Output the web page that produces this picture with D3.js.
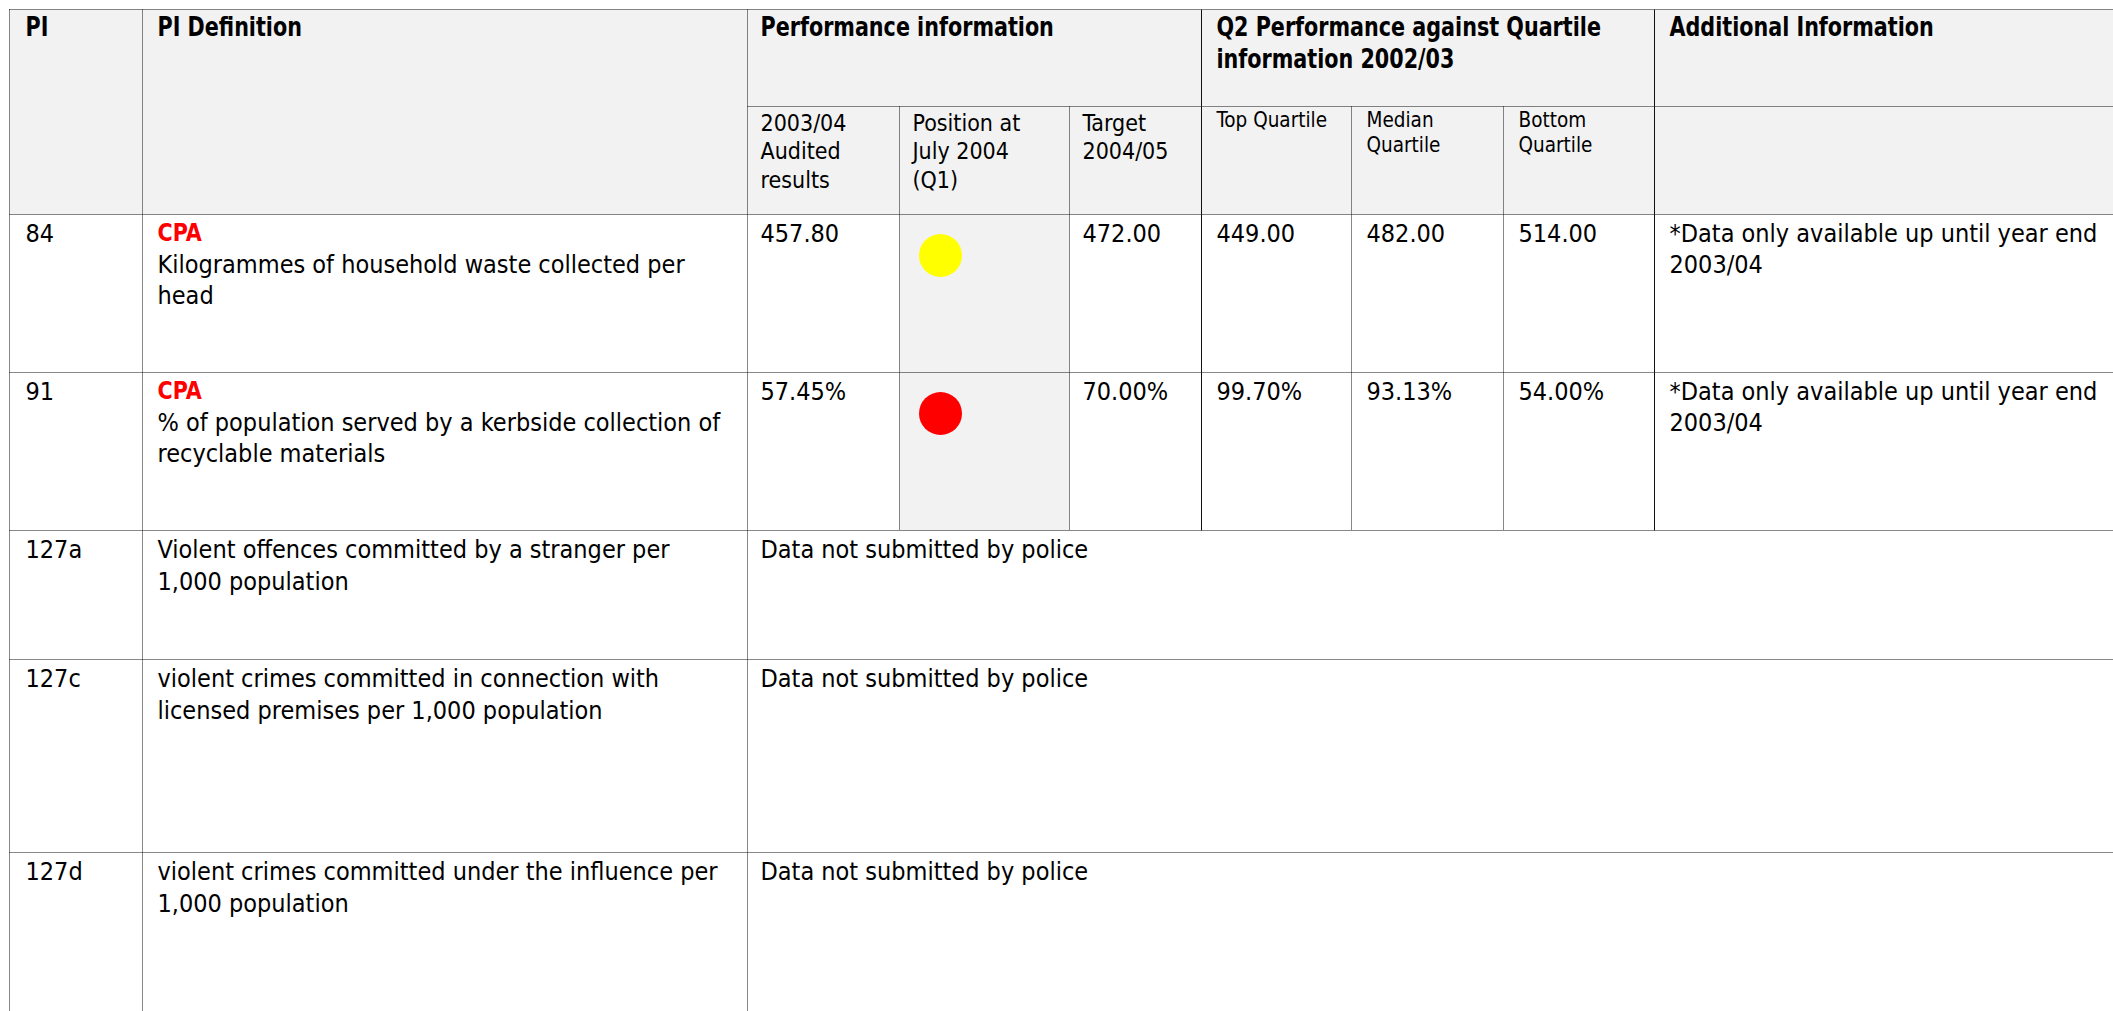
<!DOCTYPE html>
<html>
<head>
<meta charset="utf-8">
<script src="https://cdn.jsdelivr.net/npm/d3@7.9.0/dist/d3.min.js"></script>
<style>
  html, body { margin: 0; padding: 0; background: #fff; overflow: hidden; }
  svg text { font-family: "DejaVu Sans Condensed", "DejaVu Sans", sans-serif; font-stretch: condensed; fill: #000; }
</style>
</head>
<body>
<svg id="table" width="2113" height="1011"></svg>
<script>
// table data
const piCodes = ['84', '91', '127a', '127c', '127d'];
const piTags = ['CPA', 'CPA', '', '', ''];
const piDefinitions = [
  ['Kilogrammes of household waste collected per', 'head'],
  ['% of population served by a kerbside collection of', 'recyclable materials'],
  ['Violent offences committed by a stranger per', '1,000 population'],
  ['violent crimes committed in connection with', 'licensed premises per 1,000 population'],
  ['violent crimes committed under the influence per', '1,000 population'],
];
const audited = ['457.80', '57.45%'];
const q1Status = ['amber', 'red'];
const targets = ['472.00', '70.00%'];
const topQuartile = ['449.00', '99.70%'];
const medianQuartile = ['482.00', '93.13%'];
const bottomQuartile = ['514.00', '54.00%'];
const additionalInfo = [
  ['*Data only available up until year end', '2003/04'],
  ['*Data only available up until year end', '2003/04'],
];
const noDataNote = 'Data not submitted by police';

const headerTop = [
  { col: 0, lines: ['PI'] },
  { col: 1, lines: ['PI Definition'] },
  { col: 2, lines: ['Performance information'] },
  { col: 5, lines: ['Q2 Performance against Quartile', 'information 2002/03'] },
  { col: 8, lines: ['Additional Information'] },
];
const headerSub = [
  { col: 2, lines: ['2003/04', 'Audited', 'results'] },
  { col: 3, lines: ['Position at', 'July 2004', '(Q1)'] },
  { col: 4, lines: ['Target', '2004/05'] },
];
const headerQuartile = [
  { col: 5, lines: ['Top Quartile'] },
  { col: 6, lines: ['Median', 'Quartile'] },
  { col: 7, lines: ['Bottom', 'Quartile'] },
];

const statusColor = { amber: '#ffff00', red: '#ff0000' };

// layout
const width = 2113, height = 1011;
const colX = [9.5, 142.5, 747.5, 899.5, 1069.5, 1201.5, 1351.5, 1503.5, 1654.5, width];
const rowY = [9.5, 106.5, 214.5, 372.5, 530.5, 659.5, 852.5, height];
const padX = [16, 15, 13, 13, 13, 15, 15, 15, 15];

const svg = d3.select('#table');
const x = (c) => colX[c] + padX[c];

// backgrounds
svg.append('rect').attr('x', colX[0]).attr('y', rowY[0])
  .attr('width', width - colX[0]).attr('height', rowY[2] - rowY[0]).attr('fill', '#f2f2f2');
svg.append('rect').attr('x', colX[3]).attr('y', rowY[2])
  .attr('width', colX[4] - colX[3]).attr('height', rowY[4] - rowY[2]).attr('fill', '#f2f2f2');

// grid lines
const dotted = [];
const solid = [];
dotted.push([colX[0], rowY[0], width, rowY[0]]);
dotted.push([colX[0], rowY[0], colX[0], height]);
dotted.push([colX[1], rowY[0], colX[1], height]);
dotted.push([colX[2], rowY[0], colX[2], height]);
dotted.push([colX[2], rowY[1], width, rowY[1]]);
[3, 4, 6, 7].forEach((c) => dotted.push([colX[c], rowY[1], colX[c], rowY[4]]));
[5, 8].forEach((c) => solid.push([colX[c], rowY[0], colX[c], rowY[4]]));
[2, 3, 4, 5, 6].forEach((r) => dotted.push([colX[0], rowY[r], width, rowY[r]]));

const grid = svg.append('g').attr('class', 'grid');
grid.selectAll('line.dot').data(dotted).join('line').attr('class', 'dot')
  .attr('x1', (d) => d[0]).attr('y1', (d) => d[1]).attr('x2', (d) => d[2]).attr('y2', (d) => d[3])
  .attr('stroke', '#111').attr('stroke-width', 1).attr('stroke-dasharray', '1,1');
grid.selectAll('line.sol').data(solid).join('line').attr('class', 'sol')
  .attr('x1', (d) => d[0]).attr('y1', (d) => d[1]).attr('x2', (d) => d[2]).attr('y2', (d) => d[3])
  .attr('stroke', '#111').attr('stroke-width', 1);

// helper for multi-line cells
function cell(g, col, top, lines, opts) {
  const x0 = x(col);
  const t = g.append('text').attr('x', x0).attr('y', top + opts.first)
    .style('font-size', opts.size + 'px').style('font-weight', opts.bold ? 'bold' : 'normal');
  if (opts.fill) t.style('fill', opts.fill);
  if (opts.sx) t.attr('transform', `translate(${x0},0) scale(${opts.sx},1) translate(${-x0},0)`);
  lines.forEach((ln, i) => {
    t.append('tspan').attr('x', x0).attr('dy', i === 0 ? 0 : opts.lh).text(ln);
  });
}

const head = svg.append('g').attr('class', 'header');
headerTop.forEach((h) => cell(head, h.col, rowY[0], h.lines, { first: 27, size: 26, lh: 32, bold: true, sx: 0.885 }));
headerSub.forEach((h) => cell(head, h.col, rowY[1], h.lines, { first: 24, size: 23, lh: 28.5 }));
headerQuartile.forEach((h) => cell(head, h.col, rowY[1], h.lines, { first: 20, size: 20.5, lh: 25.5 }));

const body = svg.append('g').attr('class', 'body');
const bodyOpts = { first: 27, size: 25, lh: 31 };
piCodes.forEach((code, i) => {
  const top = rowY[i + 2];
  cell(body, 0, top, [code], bodyOpts);
  if (piTags[i]) {
    cell(body, 1, top, [piTags[i]], { ...bodyOpts, bold: true, fill: '#ff0000', sx: 0.92 });
    cell(body, 1, top + bodyOpts.lh, piDefinitions[i], bodyOpts);
  } else {
    cell(body, 1, top, piDefinitions[i], { ...bodyOpts, lh: 32 });
  }
  if (i < audited.length) {
    cell(body, 2, top, [audited[i]], bodyOpts);
    cell(body, 4, top, [targets[i]], bodyOpts);
    cell(body, 5, top, [topQuartile[i]], bodyOpts);
    cell(body, 6, top, [medianQuartile[i]], bodyOpts);
    cell(body, 7, top, [bottomQuartile[i]], bodyOpts);
    cell(body, 8, top, additionalInfo[i], bodyOpts);
  } else {
    cell(body, 2, top, [noDataNote], bodyOpts);
  }
});

// Q1 status dots
svg.append('g').attr('class', 'status').selectAll('circle').data(q1Status).join('circle')
  .attr('cx', colX[3] + 41)
  .attr('cy', (d, i) => rowY[i + 2] + 41)
  .attr('r', 21.5)
  .attr('fill', (d) => statusColor[d]);
</script>
</body>
</html>
